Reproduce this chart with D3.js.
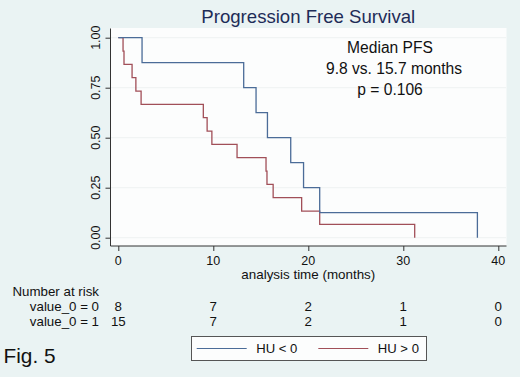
<!DOCTYPE html>
<html lang="en">
  <head>
    <meta charset="utf-8">
    <script src="https://d3js.org/d3.v7.min.js"></script>
    <style>
    body { margin: 0; background: #eaf3f3; }
    svg text { font-family: "Liberation Sans", Arial, sans-serif; fill: #111; }
    .grid line { stroke: #eef2f2; stroke-width: 1px; }
    .axis path, .axis line { stroke: #333; stroke-width: 1px; }
    </style>
    <title>Progression Free Survival</title>
  </head>
  <body>
    <script>
    // Kaplan-Meier steps
    var blueTimes = [0, 2.5, 13.2, 14.5, 15.7, 18.15, 19.5, 21.2, 37.8];
    var blueSurv  = [1, 0.875, 0.75, 0.625, 0.5, 0.375, 0.25, 0.125, 0];
    var redTimes  = [0, 0.5, 0.6, 1.45, 1.85, 2.4, 8.95, 9.35, 9.85, 12.5, 15.55, 15.65, 16.3, 19.3, 21.2, 31.2];
    var redSurv   = [1, 0.9333, 0.8667, 0.8, 0.7333, 0.6667, 0.6, 0.5333, 0.4667, 0.4, 0.3333, 0.2667, 0.2, 0.1333, 0.0667, 0];

    var xTicks = [0, 10, 20, 30, 40];
    var yTicks = [0, 0.25, 0.5, 0.75, 1];
    var riskLabels = ["value_0 = 0", "value_0 = 1"];
    var riskRow0 = [8, 7, 2, 1, 0];
    var riskRow1 = [15, 7, 2, 1, 0];
    var legendLabels = ["HU < 0", "HU > 0"];
    var notes = ["Median PFS", "9.8 vs. 15.7 months", "p = 0.106"];

    var w = 520, h = 377;
    var svg = d3.select("body").append("svg")
        .attr("width", w)
        .attr("height", h);

    var x = d3.scaleLinear().domain([0, 40]).range([118.3, 498.3]);
    var y = d3.scaleLinear().domain([0, 1]).range([237.7, 37.7]);

    // plot region
    svg.append("rect")
        .attr("x", 110.5).attr("y", 28)
        .attr("width", 396).attr("height", 218)
        .attr("fill", "#fcfdfd");

    // grid
    svg.append("g").attr("class", "grid")
      .selectAll("line").data(yTicks).enter().append("line")
        .attr("x1", 111).attr("x2", 506)
        .attr("y1", function(d) { return y(d); })
        .attr("y2", function(d) { return y(d); });

    // axes
    var yAxis = svg.append("g").attr("class", "axis")
        .attr("transform", "translate(110.5,0)")
        .call(d3.axisLeft(y).tickValues(yTicks).tickSize(5).tickFormat(""));
    yAxis.select(".domain").attr("d", "M0,28.5V246");

    var xAxis = svg.append("g").attr("class", "axis")
        .attr("transform", "translate(0,246)")
        .call(d3.axisBottom(x).tickValues(xTicks).tickSize(5).tickFormat(""));
    xAxis.select(".domain").attr("d", "M110.5,0H506.5");

    svg.selectAll(".ylab").data(yTicks).enter().append("text")
        .attr("class", "ylab")
        .attr("transform", function(d) { return "translate(100," + y(d) + ") rotate(-90)"; })
        .attr("text-anchor", "middle")
        .style("font-size", "12.5px")
        .text(d3.format(".2f"));

    svg.selectAll(".xlab").data(xTicks).enter().append("text")
        .attr("class", "xlab")
        .attr("x", function(d) { return x(d); })
        .attr("y", 265)
        .attr("text-anchor", "middle")
        .style("font-size", "12.5px")
        .text(function(d) { return d; });

    svg.append("text")
        .attr("x", x(20)).attr("y", 279)
        .attr("text-anchor", "middle")
        .style("font-size", "13.4px")
        .text("analysis time (months)");

    // title
    svg.append("text")
        .attr("x", x(20)).attr("y", 22.7)
        .attr("text-anchor", "middle")
        .style("font-size", "18.6px")
        .style("fill", "#1e2c58")
        .text("Progression Free Survival");

    // curves
    var line = d3.line()
        .x(function(d) { return x(d[0]); })
        .y(function(d) { return y(d[1]); })
        .curve(d3.curveStepAfter);

    svg.append("path")
        .datum(d3.zip(redTimes, redSurv))
        .attr("fill", "none")
        .attr("stroke", "#a14f58")
        .attr("stroke-width", 1.3)
        .attr("d", line);

    svg.append("path")
        .datum(d3.zip(blueTimes, blueSurv))
        .attr("fill", "none")
        .attr("stroke", "#4b6c98")
        .attr("stroke-width", 1.3)
        .attr("d", line);

    // annotation
    svg.selectAll(".note").data(notes).enter().append("text")
        .attr("class", "note")
        .attr("x", function(d, i) { return i == 1 ? 394 : 390; })
        .attr("y", function(d, i) { return 52.5 + i * 21; })
        .attr("text-anchor", "middle")
        .style("font-size", "15.6px")
        .text(function(d) { return d; });

    // number at risk table
    svg.append("text")
        .attr("x", 12.5).attr("y", 296)
        .style("font-size", "13.3px")
        .text("Number at risk");

    [riskRow0, riskRow1].forEach(function(row, r) {
      var yy = 311 + r * 15.3;
      svg.append("text")
          .attr("x", 99).attr("y", yy)
          .attr("text-anchor", "end")
          .style("font-size", "13.3px")
          .text(riskLabels[r]);
      svg.selectAll(".risk" + r).data(row).enter().append("text")
          .attr("class", "risk" + r)
          .attr("x", function(d, i) { return x(xTicks[i]); })
          .attr("y", yy)
          .attr("text-anchor", "middle")
          .style("font-size", "13.3px")
          .text(function(d) { return d; });
    });

    // legend
    var leg = svg.append("g");
    leg.append("rect")
        .attr("x", 191.5).attr("y", 336.5)
        .attr("width", 235).attr("height", 24)
        .attr("fill", "#fcfdfd")
        .attr("stroke", "#555")
        .attr("stroke-width", 1);
    var legColors = ["#4b6c98", "#a14f58"];
    legendLabels.forEach(function(lab, i) {
      var x0 = 196.7 + i * 121.6;
      leg.append("line")
          .attr("x1", x0).attr("x2", x0 + 50)
          .attr("y1", 348.5).attr("y2", 348.5)
          .attr("stroke", legColors[i])
          .attr("stroke-width", 1.2);
      leg.append("text")
          .attr("x", x0 + 59.5).attr("y", 353)
          .style("font-size", "13.1px")
          .text(lab);
    });

    svg.append("text")
        .attr("x", 3.5).attr("y", 363.3)
        .style("font-size", "20.8px")
        .text("Fig. 5");
    </script>
  </body>
</html>
